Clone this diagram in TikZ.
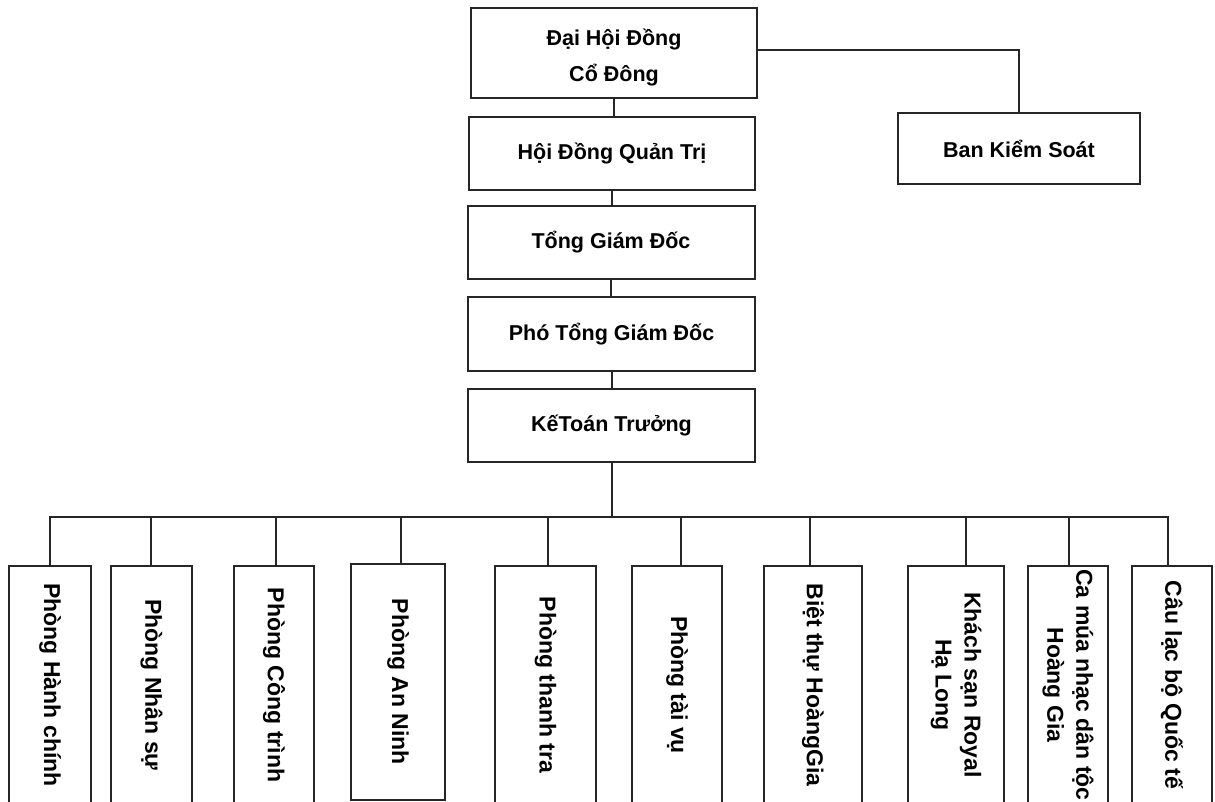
\documentclass[tikz,border=0pt]{standalone}
\usepackage{fontspec}
\setmainfont{Liberation Sans}
\begin{document}
\begin{tikzpicture}[x=1pt,y=-1pt,
  conn/.style={draw=black!85, line width=2pt},
  topbox/.style={draw=black!85, line width=2pt, align=center, inner sep=0pt,
    font=\fontsize{21.5}{34}\selectfont\bfseries},
  lowbox/.style={draw=black!85, line width=2pt, align=center, inner sep=0pt, rotate=-90,
    font=\fontsize{23}{29}\selectfont\bfseries}]
\useasboundingbox (0,0) rectangle (1215,802);
\fill[white] (0,0) rectangle (1215,802);
\clip (0,0) rectangle (1215,802);

% upper chain
\node[topbox, minimum width=286pt, minimum height=90pt] (t1) at (614,53)
  {\raisebox{-4pt}[\height][\depth]{\begin{tabular}{@{}c@{}}Đại Hội Đồng\\[2pt]Cổ Đông\end{tabular}}};
\node[topbox, minimum width=286pt, minimum height=73pt] (t2) at (612,153.5) {Hội Đồng Quản Trị};
\node[topbox, minimum width=287pt, minimum height=73pt] (t3) at (611,242.5) {Tổng Giám Đốc};
\node[topbox, minimum width=287pt, minimum height=74pt] (t4) at (611.5,334) {Phó Tổng Giám Đốc};
\node[topbox, minimum width=287pt, minimum height=73pt] (t5) at (611.5,425.5) {KếToán Trưởng};
\node[topbox, minimum width=242pt, minimum height=71pt] (bks) at (1019,148.5) {Ban Kiểm Soát};

% lower boxes (rotated: width = vertical length, height = horizontal size)
\node[lowbox, minimum width=238pt, minimum height=82pt] (b1) at (50,685) {Phòng Hành chính};
\node[lowbox, minimum width=238pt, minimum height=81pt] (b2) at (151.5,685) {Phòng Nhân sự};
\node[lowbox, minimum width=238pt, minimum height=80pt] (b3) at (274,685) {Phòng Công trình};
\node[lowbox, minimum width=236pt, minimum height=94pt] (b4) at (398,682) {Phòng An Ninh};
\node[lowbox, minimum width=238pt, minimum height=101pt] (b5) at (545.5,685) {Phòng thanh tra};
\node[lowbox, minimum width=238pt, minimum height=90pt] (b6) at (677,685) {Phòng tài vụ};
\node[lowbox, minimum width=238pt, minimum height=98pt] (b7) at (813,685) {Biệt thự HoàngGia};
\node[lowbox, minimum width=238pt, minimum height=96pt] (b8) at (956,685) {Khách sạn Royal\\Hạ Long};
\node[lowbox, minimum width=238pt, minimum height=80pt] (b9) at (1068,685) {Ca múa nhạc dân tộc\\Hoàng Gia};
\node[lowbox, minimum width=238pt, minimum height=80pt] (b10) at (1172,685) {Câu lạc bộ Quốc tế};

% bus coordinates
\coordinate (s1) at (50,517);
\coordinate (s2) at (151,517);
\coordinate (s3) at (276,517);
\coordinate (s4) at (401,517);
\coordinate (s5) at (548,517);
\coordinate (s6) at (681,517);
\coordinate (s7) at (810,517);
\coordinate (s8) at (966,517);
\coordinate (s9) at (1069,517);
\coordinate (s10) at (1168,517);

% connectors
\draw[conn] (t1.south) -- (t1.south |- t2.north);
\draw[conn] (t2.south) -- (t2.south |- t3.north);
\draw[conn] (t3.south) -- (t3.south |- t4.north);
\draw[conn] (t4.south) -- (t4.south |- t5.north);
\draw[conn] ([yshift=3pt]t1.east) -| (bks.north);
\draw[conn] (t5.south) -- (t5.south |- s1);
\draw[conn, line cap=rect] (s1) -- (s10);
\foreach \i in {1,...,10} {
  \draw[conn] (s\i) -- (s\i |- b\i.west);
}
\end{tikzpicture}
\end{document}
